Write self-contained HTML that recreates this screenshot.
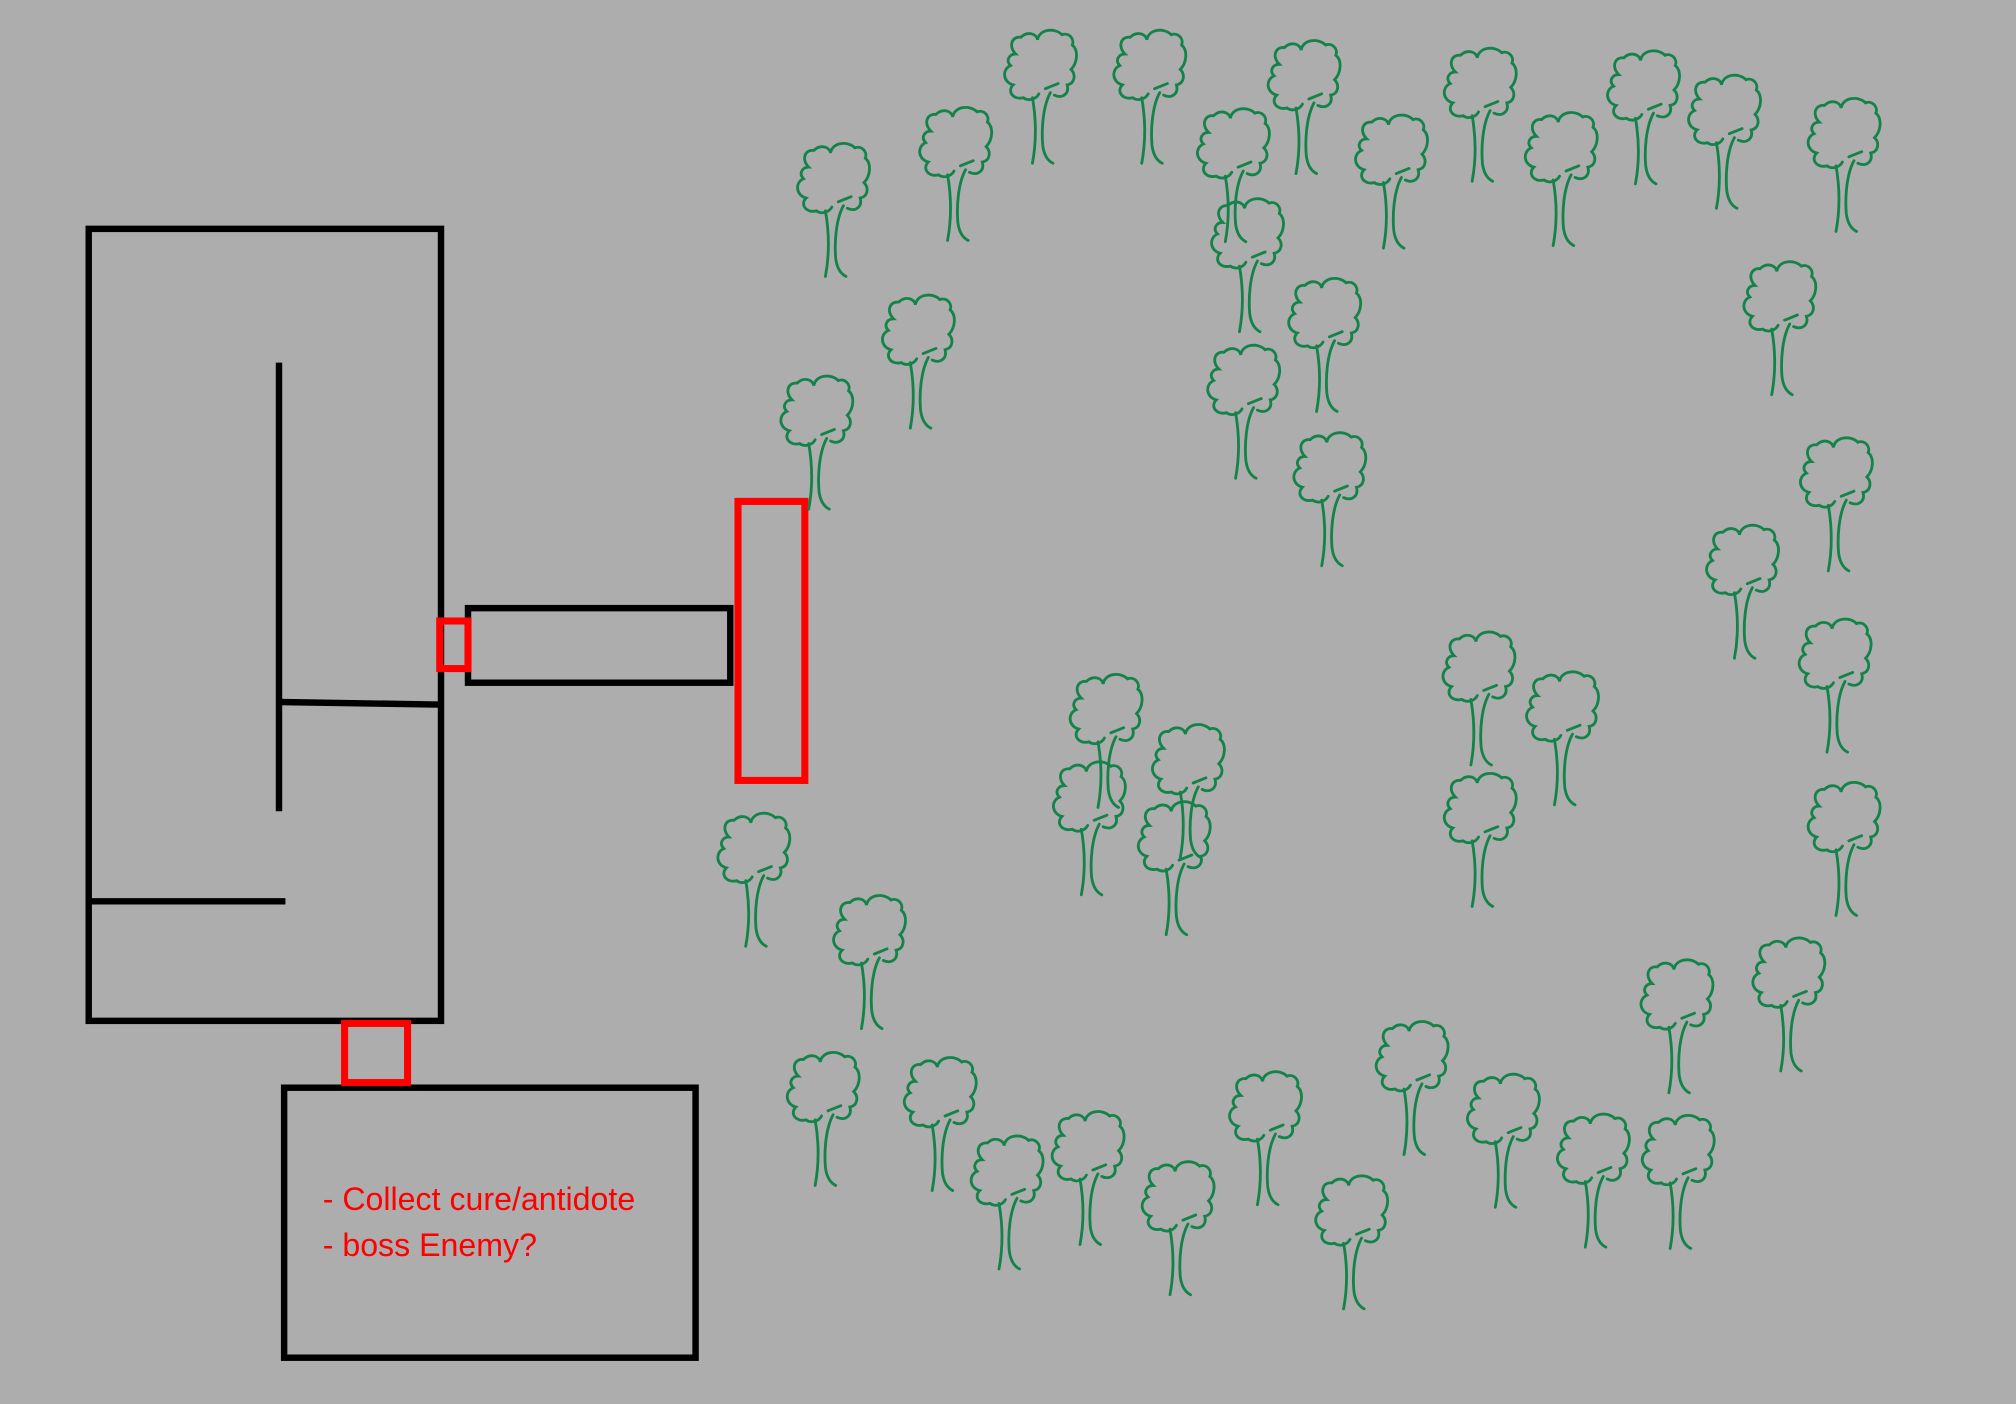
<!DOCTYPE html>
<html><head><meta charset="utf-8"><style>html,body{margin:0;padding:0;background:#adadad;overflow:hidden}svg{display:block}</style></head>
<body>
<svg id="map" width="2016" height="1404" viewBox="0 0 1568 1092" xmlns="http://www.w3.org/2000/svg">
<rect width="1568" height="1092" fill="#adadad"/>
<g fill="none" stroke="#000" stroke-width="5">
<rect x="69" y="178" width="274" height="616"/>
<line x1="217" y1="282" x2="217" y2="631"/>
<line x1="217" y1="546" x2="341" y2="548"/>
<line x1="70" y1="701" x2="222" y2="701"/>
<rect x="364" y="473" width="204" height="58"/>
<rect x="221" y="846" width="320" height="210"/>
</g>
<g fill="none" stroke="#ff0000" stroke-width="5.5">
<rect x="342" y="483" width="22" height="37"/>
<rect x="574" y="390" width="52" height="217"/>
<rect x="268" y="796" width="49" height="46"/>
</g>
<text x="251" y="941" font-family="'Liberation Sans',sans-serif" font-size="25" fill="#ff0000">- Collect cure/antidote</text>
<text x="251" y="977" font-family="'Liberation Sans',sans-serif" font-size="25" fill="#ff0000">- boss Enemy?</text>
<g id="trees"></g>
</svg>
<script>
const treeX=[622,717,783,868,933,988,1056,1125,1188,1252,1315,1408,944,1004,941,1008,688,609,1358,1402,1329,1401,1124,1189,1125,834,898,821,887,1408,560,650,1365,1278,1072,614,705,757,820,890,958,1025,1143,1213,1279];
const treeY=[115,87,27,27,88,35,93,41,91,43,62,80,158,220,272,340,233,296,207,344,412,485,495,526,605,528,567,596,627,612,636,700,733,750,798,822,826,887,868,907,837,918,839,870,871];
const NS='http://www.w3.org/2000/svg';
const g=document.getElementById('trees');
const crown='M16,55 C8,57 3,50 8,45 C0,43 -1,33 6,30 C2,26 5,21 10,21 C4,15 7,7 14,8 C19,3 26,5 27,10 C28,2 40,0 46,6 C51,4 56,9 54,14 C59,18 58,28 53,33 C57,37 56,44 50,45 C52,52 46,56 40,53 M16,55 C20,58 26,56 28,52';
const trunk='M23,55 C26,72 26,90 23,106 M37,51 C31,62 30,80 31,92 C32,100 35,104 39,106 M33,48 L43,44';
for(let i=0;i<treeX.length;i++){
  const t=document.createElementNS(NS,'path');
  
  
  t.setAttribute('d',crown+' '+trunk);
  t.setAttribute('transform','translate('+(treeX[i]-3)+','+(treeY[i]-6)+')');
  t.setAttribute('fill','none');
  t.setAttribute('stroke','#14834a');
  t.setAttribute('stroke-width','2.2');
  t.setAttribute('stroke-linecap','round');
  g.appendChild(t);
}
</script>
</body></html>
